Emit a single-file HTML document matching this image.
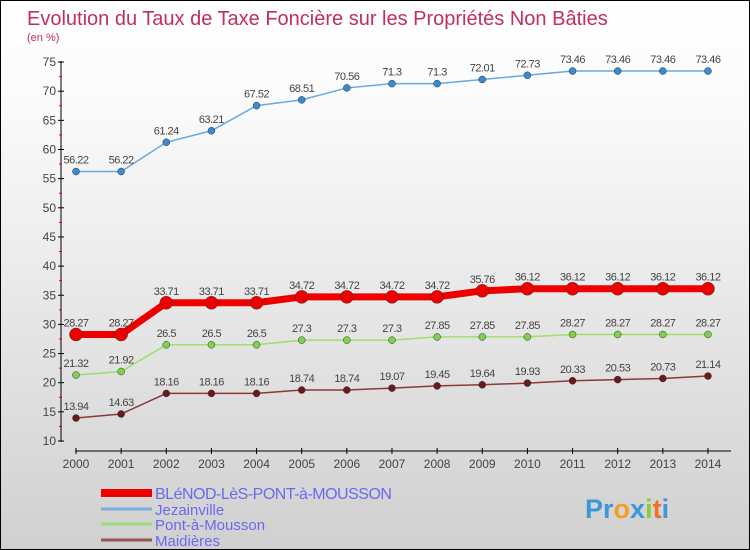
<!DOCTYPE html>
<html><head><meta charset="utf-8"><style>
body{margin:0}
#c{width:748px;height:548px;border:1px solid #000;background:linear-gradient(#fff,#fafafa 20%,#d0d0d0);position:relative;overflow:hidden;font-family:"Liberation Sans",sans-serif}
</style></head><body>
<div id="c">
<svg id="s" width="748" height="548" style="position:absolute;left:0;top:0" font-family="Liberation Sans, sans-serif">
<text x="26" y="24" font-size="20" fill="#c0305a">Evolution du Taux de Taxe Foncière sur les Propriétés Non Bâties</text>
<text x="26" y="40" font-size="11" fill="#c0305a">(en %)</text>
<g id="g"></g>
<text x="584" y="517" font-size="27" font-weight="bold" fill="#3a9ad9">Pr<tspan fill="#f0a020">o</tspan><tspan fill="#3a9ad9">x</tspan><tspan fill="#8c3">i</tspan><tspan fill="#f07020">t</tspan><tspan fill="#3a9ad9">i</tspan></text>
</svg>
</div>
<script>
const years=[2000,2001,2002,2003,2004,2005,2006,2007,2008,2009,2010,2011,2012,2013,2014];
const yTicks=[10,15,20,25,30,35,40,45,50,55,60,65,70,75];
const blenod=[28.27,28.27,33.71,33.71,33.71,34.72,34.72,34.72,34.72,35.76,36.12,36.12,36.12,36.12,36.12];
const jezainville=[56.22,56.22,61.24,63.21,67.52,68.51,70.56,71.3,71.3,72.01,72.73,73.46,73.46,73.46,73.46];
const pont=[21.32,21.92,26.5,26.5,26.5,27.3,27.3,27.3,27.85,27.85,27.85,28.27,28.27,28.27,28.27];
const maidieres=[13.94,14.63,18.16,18.16,18.16,18.74,18.74,19.07,19.45,19.64,19.93,20.33,20.53,20.73,21.14];
const names=["BLéNOD-LèS-PONT-à-MOUSSON","Jezainville","Pont-à-Mousson","Maidières"];
const NS="http://www.w3.org/2000/svg";
const g=document.getElementById('g');
const X=i=>75+i*45.14, Y=v=>440-(v-10)*5.83;
function mk(t,a,p){const e=document.createElementNS(NS,t);for(const k in a)e.setAttribute(k,a[k]);(p||g).appendChild(e);return e;}
let e;
e=mk('line',{x1:60,y1:60,x2:60,y2:441,stroke:'#000'});


e=mk('line',{x1:74,y1:450,x2:730,y2:450,stroke:'#000'});


yTicks.forEach(v=>{
 mk('line',{x1:57,y1:Y(v),x2:63,y2:Y(v),stroke:'#000'});
 if(v<75)mk('line',{x1:58,y1:Y(v+2.5),x2:61,y2:Y(v+2.5),stroke:'#e00'});
 e=mk('text',{x:55,y:Y(v)+4,'font-size':12,fill:'#444','text-anchor':'end'});e.textContent=v;
 
 
});
years.forEach((y,i)=>{
 mk('line',{x1:X(i),y1:447,x2:X(i),y2:453,stroke:'#000'});
 e=mk('text',{x:X(i),y:467,'font-size':12,fill:'#444','text-anchor':'middle'});e.textContent=y;
 
 
});
function series(d,col,w,r,dot,name){
 e=mk('polyline',{points:d.map((v,i)=>X(i)+','+Y(v)).join(' '),fill:'none',stroke:col,'stroke-width':w});
 
 
 d.forEach((v,i)=>{
  e=mk('circle',{cx:X(i),cy:Y(v),r:r,fill:dot,stroke:'#333','stroke-width':0.5});
  
  
  e=mk('text',{x:X(i),y:Y(v)-8,'font-size':11,fill:'#444','text-anchor':'middle','letter-spacing':'-0.5'});e.textContent=v;
  
  
 });
}
series(jezainville,'#6aa8dd',1.5,3.5,'#3a8ad0','jezainville');
series(pont,'#9ddf6a',1.5,3.5,'#80d050','pont-a-mousson');
series(maidieres,'#8a3a3a',1.5,3.5,'#6a1a1a','maidieres');
series(blenod,'#ee0000',7,6.5,'#ee0000','blenod');
const lc=['#ee0000','#7aaee0','#99dd77','#995555'],lw=[8,3,3,3],ly=[492,508,523,539];
names.forEach((n,i)=>{
 e=mk('line',{x1:100,y1:ly[i],x2:151,y2:ly[i],stroke:lc[i],'stroke-width':lw[i]});
 
 
 e=mk('text',{x:154,y:ly[i]+6,'font-size':i==0?16:15,fill:'#6a6aee','letter-spacing':i==0?'-0.5':'0'});e.textContent=n;
 
 
});
</script>
</body></html>
